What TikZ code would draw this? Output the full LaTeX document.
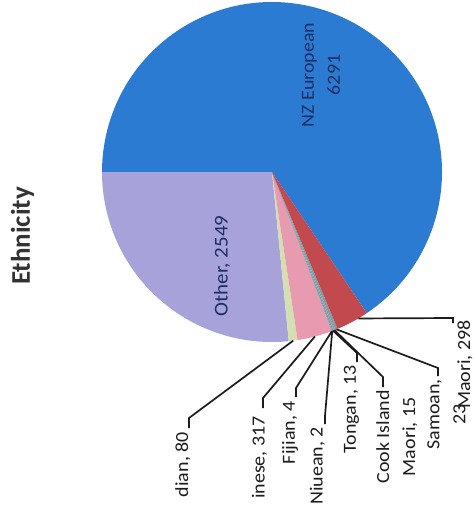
\documentclass[tikz,border=0pt]{standalone}
\usepackage{fontspec}
\setmainfont{Carlito}[FakeStretch=1.08]
\newfontfamily\titlefont{Carlito}
\definecolor{nzblue}{HTML}{2C7BD2}
\definecolor{otherc}{HTML}{A7A2DA}
\definecolor{indianc}{HTML}{D5DFB2}
\definecolor{chinesec}{HTML}{E79AB0}
\definecolor{smallc}{HTML}{8A9CB0}
\definecolor{smalld}{HTML}{7FA0A0}
\definecolor{maoric}{HTML}{C24A4E}
\definecolor{navytext}{HTML}{1A2F66}
\definecolor{labtext}{HTML}{1C1C1C}
\begin{document}
\begin{tikzpicture}[x=1pt,y=1pt,
  leader/.style={draw=labtext, line width=1.7pt, line join=miter},
  lab/.style={rotate=90, anchor=east, inner sep=0pt, align=center,
    font=\fontsize{18.5}{26}\selectfont, text=labtext},
  inlab/.style={rotate=90, inner sep=0pt, align=center,
    font=\fontsize{18.5}{26}\selectfont, text=navytext}]
\useasboundingbox (0,0) rectangle (474,-515);
\fill[white] (0,0) rectangle (474,-515);
\coordinate (C) at (272,-172);
\def\R{170}
% slices
\fill[nzblue]   (C) -- ++(303.888:\R) arc[start angle=303.888, end angle=540, radius=\R] -- cycle;
\fill[otherc]   (C) -- ++(180:\R) arc[start angle=180, end angle=275.665, radius=\R] -- cycle;
\fill[indianc]  (C) -- ++(275.665:\R) arc[start angle=275.665, end angle=278.668, radius=\R] -- cycle;
\fill[chinesec] (C) -- ++(278.668:\R) arc[start angle=278.668, end angle=290.565, radius=\R] -- cycle;
\fill[smallc]   (C) -- ++(290.565:\R) arc[start angle=290.565, end angle=290.790, radius=\R] -- cycle;
\fill[smalld]   (C) -- ++(290.790:\R) arc[start angle=290.790, end angle=291.278, radius=\R] -- cycle;
\fill[smallc]   (C) -- ++(291.278:\R) arc[start angle=291.278, end angle=291.841, radius=\R] -- cycle;
\fill[smalld]   (C) -- ++(291.841:\R) arc[start angle=291.841, end angle=292.704, radius=\R] -- cycle;
\fill[maoric]   (C) -- ++(292.704:\R) arc[start angle=292.704, end angle=303.888, radius=\R] -- cycle;

% in-slice labels
\node[inlab] (nzl) at (321,-75) {NZ European\\6291};
\node[inlab, font=\fontsize{19.5}{26}\selectfont] (otl) at (222,-266) {Other, 2549};

% title
\node[rotate=90, inner sep=0pt, font=\titlefont\bfseries\fontsize{27}{30}\selectfont, text=labtext!90] (title) at (22.5,-236) {Ethnicity};

% leader start points on the pie edge
\path (C) ++(277.17:\R) coordinate (sInd);
\path (C) ++(284.62:\R) coordinate (sChi);
\path (C) ++(290.64:\R) coordinate (sFij);
\path (C) ++(290.75:\R) coordinate (sNiu);
\path (C) ++(291.03:\R) coordinate (sTon);
\path (C) ++(291.56:\R) coordinate (sCoo);
\path (C) ++(292.27:\R) coordinate (sSam);
\path (C) ++(300.5:\R) coordinate (sMao);

% elbows and tick ends
\coordinate (eInd) at (189,-418); \coordinate (tInd) at (189,-428);
\coordinate (eChi) at (263,-398); \coordinate (tChi) at (263,-408);
\coordinate (eFij) at (296,-388); \coordinate (tFij) at (296,-397);
\coordinate (eNiu) at (325,-416); \coordinate (tNiu) at (325,-424);
\coordinate (eTon) at (357,-353); \coordinate (tTon) at (357,-362);
\coordinate (eCoo) at (383,-377); \coordinate (tCoo) at (383,-387);
\coordinate (eSam) at (438,-368); \coordinate (tSam) at (438,-376);
\coordinate (eMao) at (453,-318); \coordinate (tMao) at (453,-323);

% labels
\node[lab] (lInd) at (183,-432) {dian, 80};
\node[lab] (lChi) at (259.5,-416) {inese, 317};
\node[lab] (lFij) at (290,-401) {Fijian, 4};
\node[lab] (lNiu) at (317.5,-427) {Niuean, 2};
\node[lab] (lTon) at (351.5,-365) {Tongan, 13};
\node[lab] (lCoo) at (397,-390) {Cook Island\\Maori, 15};
\node[lab] (lSam) at (446.5,-379) {Samoan,\\23};
\node[lab] (lMao) at (465,-320) {Maori, 298};

% leaders
\draw[leader] (sInd) -- (eInd) -- (tInd);
\draw[leader] (sChi) -- (eChi) -- (tChi);
\draw[leader] (sFij) -- (eFij) -- (tFij);
\draw[leader] (sNiu) -- (eNiu) -- (tNiu);
\draw[leader] (sTon) -- (eTon) -- (tTon);
\draw[leader] (sCoo) -- (eCoo) -- (tCoo);
\draw[leader] (sSam) -- (eSam) -- (tSam);
\draw[leader] (sMao) -- (eMao) -- (tMao);
\end{tikzpicture}
\end{document}
